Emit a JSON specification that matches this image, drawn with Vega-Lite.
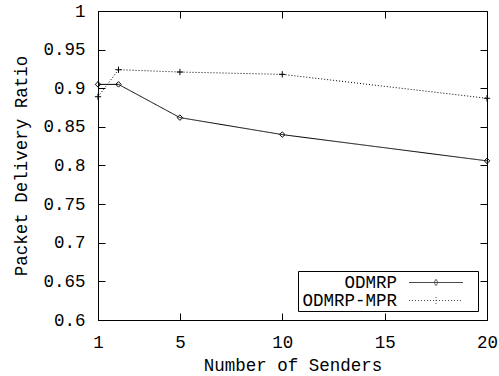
{
  "$schema": "https://vega.github.io/schema/vega-lite/v6.json",
  "width": 389,
  "height": 309,
  "autosize": "none",
  "padding": {"left": 98, "top": 11, "right": 12, "bottom": 56},
  "background": "white",
  "config": {
    "view": {"stroke": null},
    "font": "Liberation Mono",
    "axis": {
      "domainColor": "black",
      "domainWidth": 1,
      "tickColor": "black",
      "tickWidth": 1,
      "labelColor": "black",
      "titleColor": "black",
      "labelFont": "Liberation Mono",
      "titleFont": "Liberation Mono",
      "labelFontSize": 17.5,
      "titleFontSize": 17.5,
      "titleFontWeight": "normal",
      "grid": false
    },
    "legend": {
      "title": null,
      "orient": "bottom-right",
      "offset": 9,
      "strokeColor": "black",
      "padding": 2,
      "labelAlign": "right",
      "labelOffset": -48.5,
      "symbolOffset": 126.5,
      "labelFont": "Liberation Mono",
      "labelFontSize": 17.5,
      "labelColor": "black",
      "symbolSize": 324,
      "symbolStrokeColor": "black",
      "symbolStrokeWidth": 1,
      "symbolFillColor": "transparent",
      "rowPadding": 0
    }
  },
  "data": {
    "values": [
      {"senders": 1, "ratio": 0.905, "series": "ODMRP"},
      {"senders": 2, "ratio": 0.905, "series": "ODMRP"},
      {"senders": 5, "ratio": 0.862, "series": "ODMRP"},
      {"senders": 10, "ratio": 0.840, "series": "ODMRP"},
      {"senders": 20, "ratio": 0.806, "series": "ODMRP"},
      {"senders": 1, "ratio": 0.889, "series": "ODMRP-MPR"},
      {"senders": 2, "ratio": 0.924, "series": "ODMRP-MPR"},
      {"senders": 5, "ratio": 0.921, "series": "ODMRP-MPR"},
      {"senders": 10, "ratio": 0.918, "series": "ODMRP-MPR"},
      {"senders": 20, "ratio": 0.887, "series": "ODMRP-MPR"}
    ]
  },
  "layer": [
    {
      "encoding": {
        "x": {
          "field": "senders",
          "type": "quantitative",
          "scale": {"domain": [1, 20], "nice": false, "zero": false},
          "axis": {"title": "Number of Senders", "values": [1, 5, 10, 15, 20], "tickSize": -7, "labelPadding": 20, "titlePadding": 6, "labelFlush": false}
        },
        "y": {
          "field": "ratio",
          "type": "quantitative",
          "scale": {"domain": [0.6, 1], "nice": false, "zero": false},
          "axis": {"title": "Packet Delivery Ratio", "values": [0.6, 0.65, 0.7, 0.75, 0.8, 0.85, 0.9, 0.95, 1], "format": "~g", "tickSize": -7, "labelPadding": 20, "titlePadding": 12, "labelFlush": false}
        }
      },
      "layer": [
        {
          "mark": {"type": "line", "color": "black", "strokeWidth": 1},
          "encoding": {
            "strokeDash": {
              "field": "series",
              "type": "nominal",
              "scale": {"domain": ["ODMRP", "ODMRP-MPR"], "range": [[1, 0], [1, 2]]}
            }
          }
        },
        {
          "transform": [{"filter": "datum.series === 'ODMRP'"}],
          "mark": {"type": "point", "shape": "diamond", "filled": false, "color": "black", "size": 30, "strokeWidth": 1, "opacity": 1}
        },
        {
          "transform": [{"filter": "datum.series === 'ODMRP-MPR'"}],
          "mark": {"type": "point", "shape": "M-1,0H1M0,-1V1", "filled": false, "color": "black", "size": 40, "strokeWidth": 1, "opacity": 1}
        },
        {
          "transform": [{"filter": "false"}],
          "mark": {"type": "point", "filled": false, "color": "black", "strokeWidth": 1},
          "encoding": {
            "shape": {
              "field": "series",
              "type": "nominal",
              "scale": {"domain": ["ODMRP", "ODMRP-MPR"], "range": ["M-3,0H3M0,-0.35L0.22,0L0,0.35L-0.22,0ZM4.2,0h0.001", "M-3,0H3M0,-0.4V0.4M4.2,0h0.001"]}
            },
            "strokeDash": {
              "field": "series",
              "type": "nominal",
              "scale": {"domain": ["ODMRP", "ODMRP-MPR"], "range": [[1, 0], [1, 2]]}
            }
          }
        }
      ]
    },
    {
      "mark": {"type": "point", "opacity": 0},
      "encoding": {
        "x": {
          "field": "senders",
          "type": "quantitative",
          "axis": {"orient": "top", "title": null, "labels": false, "values": [1, 5, 10, 15, 20], "tickSize": -7}
        },
        "y": {
          "field": "ratio",
          "type": "quantitative",
          "axis": {"orient": "right", "title": null, "labels": false, "values": [0.6, 0.65, 0.7, 0.75, 0.8, 0.85, 0.9, 0.95, 1], "tickSize": -7}
        }
      }
    }
  ],
  "resolve": {"axis": {"x": "independent", "y": "independent"}}
}
